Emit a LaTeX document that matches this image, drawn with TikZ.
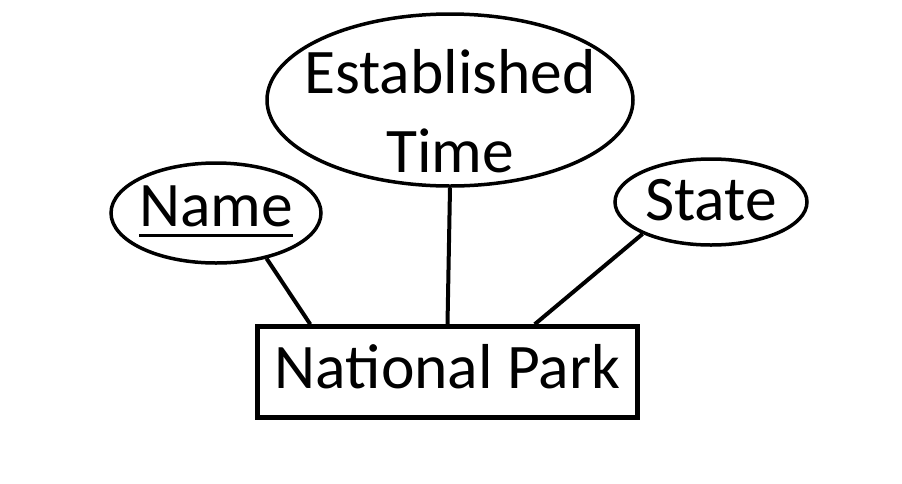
\documentclass[tikz,border=0pt]{standalone}
\usepackage{fontspec}
\setmainfont{Carlito}
\usetikzlibrary{shapes.geometric,calc}
\newcommand\ulname[1]{\setbox0\hbox{#1}\rlap{\rule[-10.5pt]{\wd0}{3pt}}\box0}
\begin{document}
\begin{tikzpicture}[x=1pt,y=-1pt,
  attr/.style={ellipse,draw,line width=3.5pt,inner xsep=-20pt,inner ysep=-30pt,align=center,
    font=\fontsize{63.5}{79}\selectfont},
  entity/.style={rectangle,draw,line width=4.5pt,inner sep=0pt,
    font=\fontsize{63.5}{79}\selectfont},
  link/.style={line width=4pt}]
\useasboundingbox (0,0) rectangle (902,483);
\fill[white] (0,0) rectangle (902,483);
\node[entity,minimum width=380pt,minimum height=91pt,text height=41pt,text depth=9pt] (np) at (447.5,372) {National Park};
\node[attr,minimum width=366pt,minimum height=172pt,text height=144pt,text depth=0pt] (est) at (450,100) {Established\\Time};
\node[attr,minimum width=210pt,minimum height=100pt,text height=39pt,text depth=13pt] (name) at (216,213) {\ulname{Name}};
\node[attr,minimum width=192pt,minimum height=86pt,text height=41pt,text depth=5pt] (state) at (711,202) {State};
\draw[link] (name.-42) -- ($(np.north west)+(55,0)$);
\draw[link] (est.south) -- (np.north);
\draw[link] (state.-155) -- ($(np.north east)+(-105,0)$);
\end{tikzpicture}
\end{document}
